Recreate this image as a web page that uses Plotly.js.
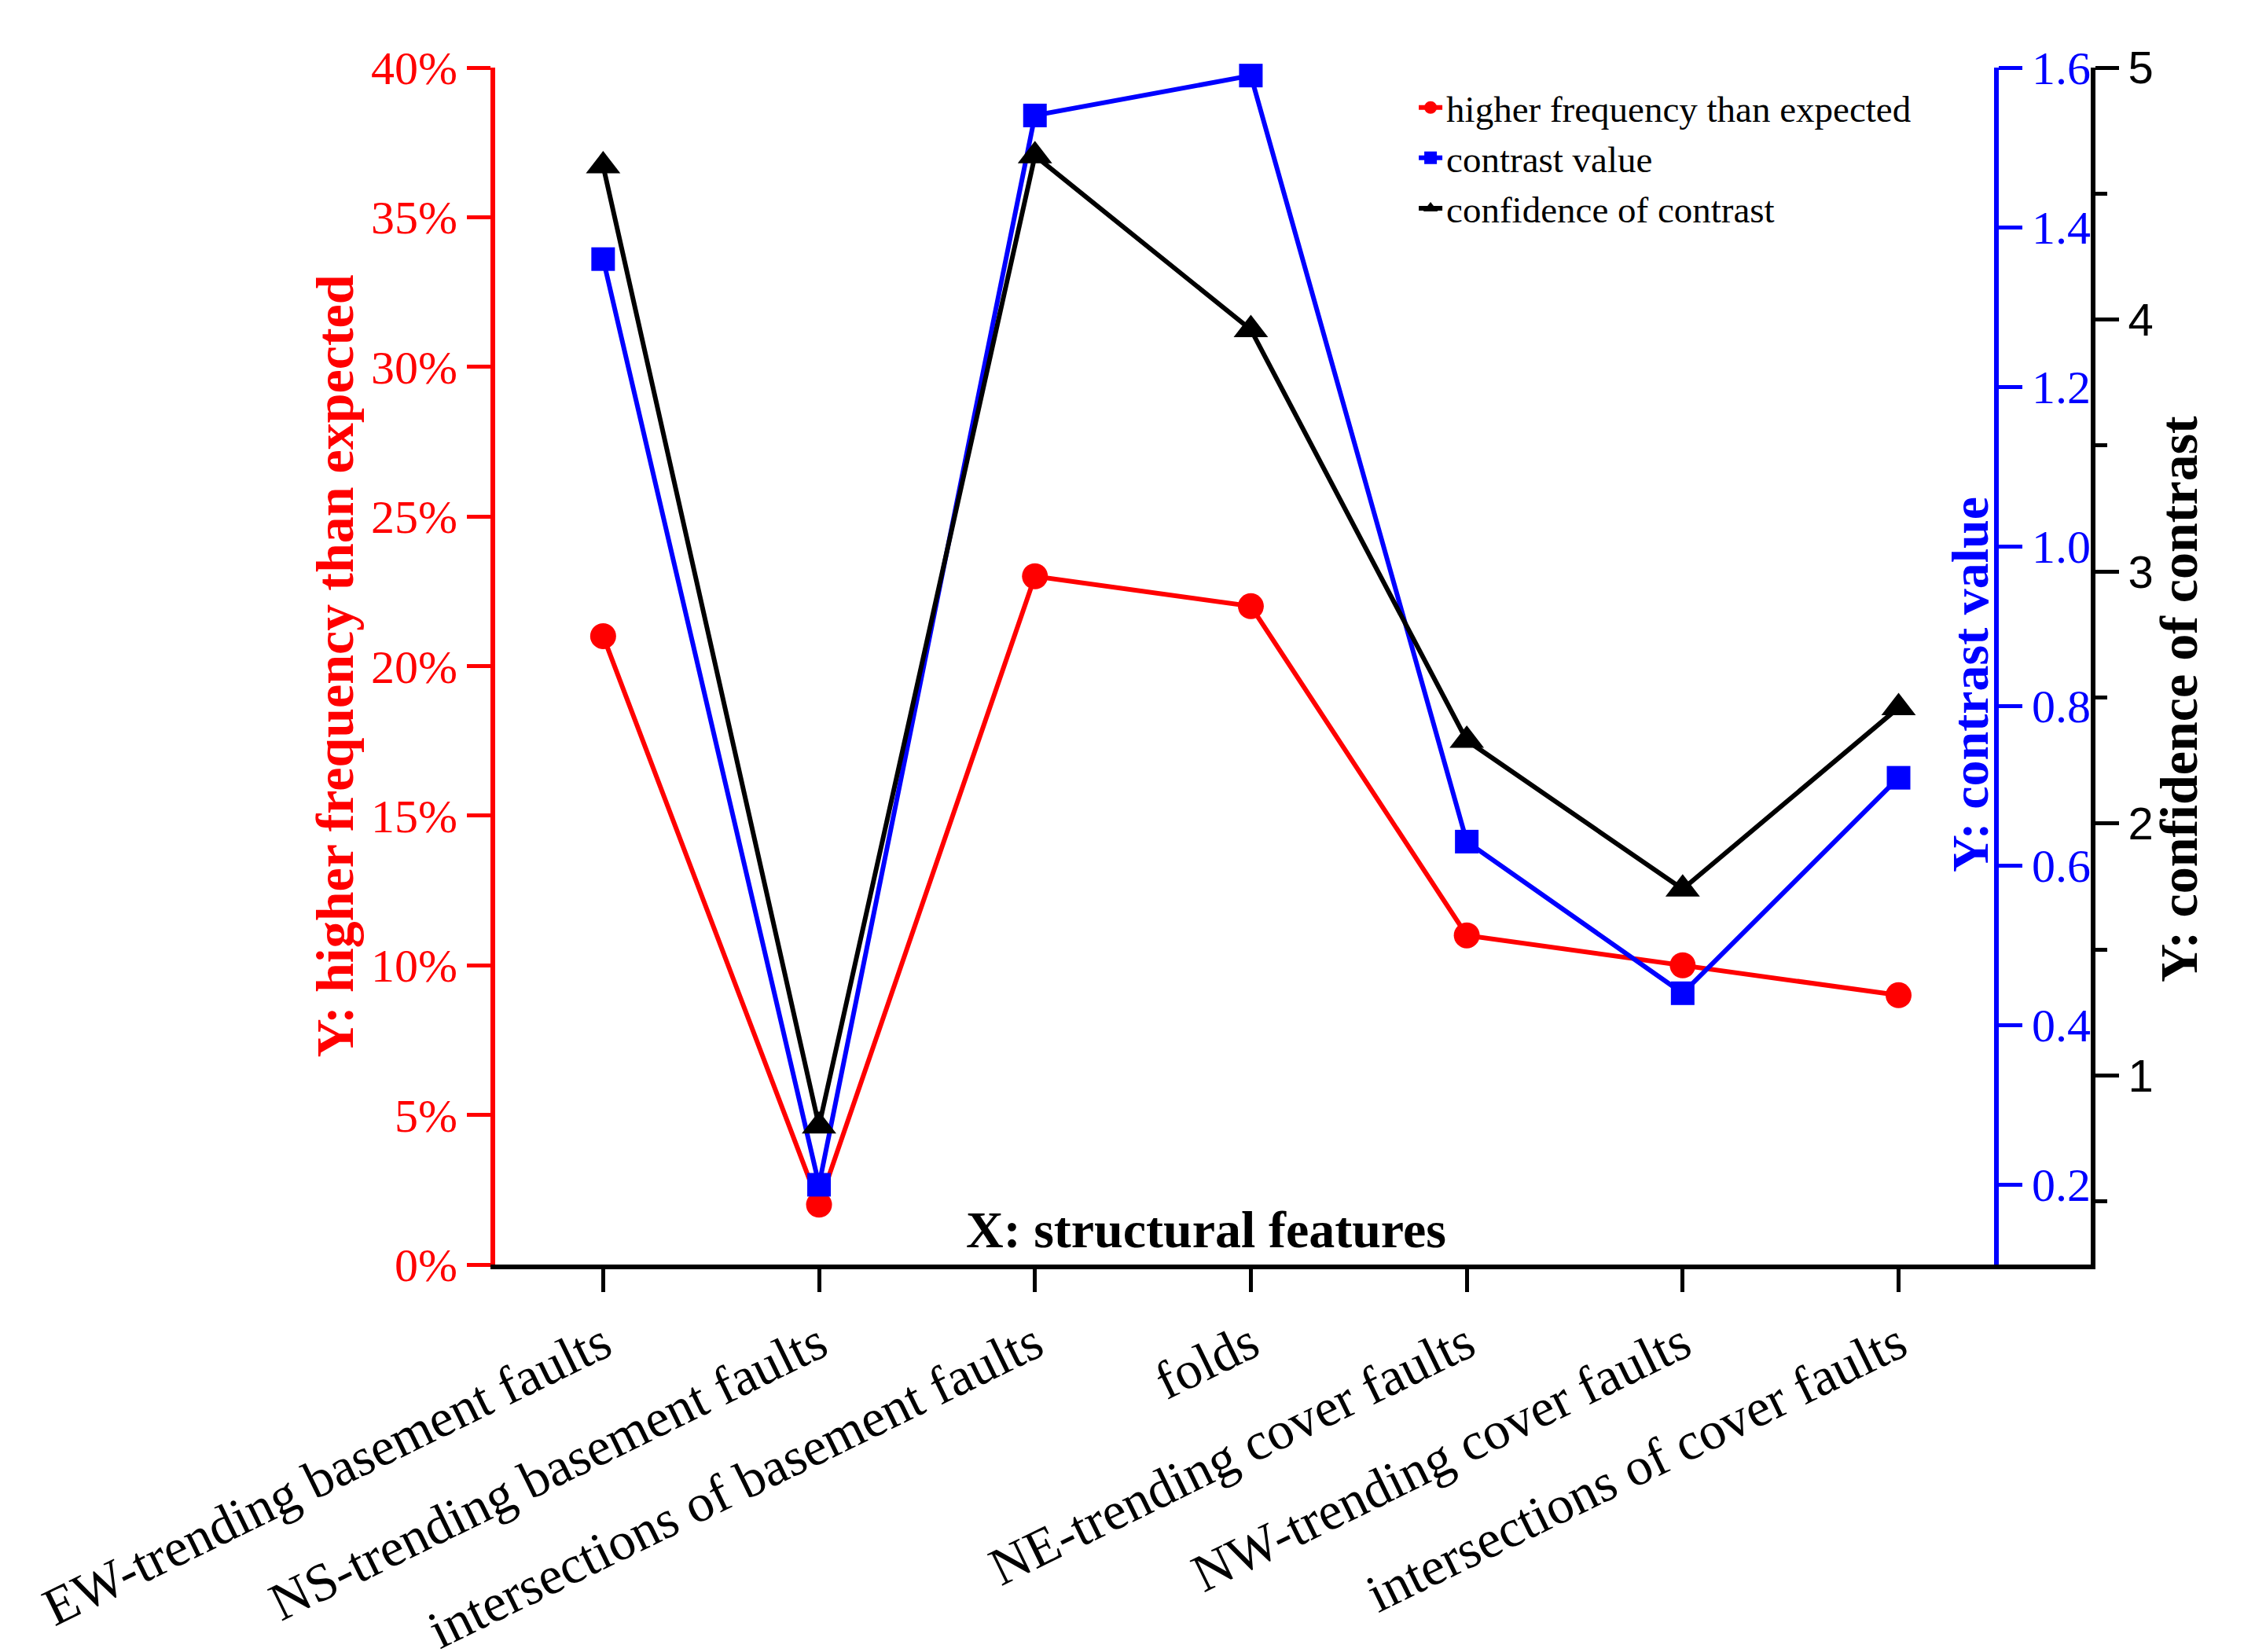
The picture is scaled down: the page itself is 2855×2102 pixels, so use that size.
<!DOCTYPE html>
<html>
<head>
<meta charset="utf-8">
<script src="https://cdn.plot.ly/plotly-3.0.1.min.js"></script>
<style>
  html, body { margin: 0; padding: 0; background: #ffffff; }
  #chart { width: 2855px; height: 2102px; }
</style>
</head>
<body>
<div id="chart"></div>
<script>
// ---- data ----
const categories = [
  'EW-trending basement faults',
  'NS-trending basement faults',
  'intersections of basement faults',
  'folds',
  'NE-trending cover faults',
  'NW-trending cover faults',
  'intersections of cover faults'
];
const freqPct = [21, 2, 23, 22, 11, 10, 9];                       // % (left axis)
const contrastValue = [1.36, 0.20, 1.54, 1.59, 0.63, 0.44, 0.71];  // blue axis
const confidence = [4.61, 0.80, 4.65, 3.96, 2.33, 1.74, 2.46];     // black axis

const redTicks = [0, 5, 10, 15, 20, 25, 30, 35, 40];
const redTickText = ['0%', '5%', '10%', '15%', '20%', '25%', '30%', '35%', '40%'];
const blueTicks = [0.2, 0.4, 0.6, 0.8, 1.0, 1.2, 1.4, 1.6];
const blueTickText = ['0.2', '0.4', '0.6', '0.8', '1.0', '1.2', '1.4', '1.6'];
const blackTicks = [1, 2, 3, 4, 5];
const blackMinorTicks = [0.5, 1.5, 2.5, 3.5, 4.5];

const seriesNames = ['higher frequency than expected', 'contrast value', 'confidence of contrast'];

// ---- styling ----
const RED = '#ff0000', BLUE = '#0000ff', BLACK = '#000000';
const SERIF = 'Liberation Serif, Times New Roman, serif';
const SANS = 'Liberation Sans, Arial, sans-serif';

const traces = [
  {
    x: categories, y: freqPct, name: seriesNames[0], yaxis: 'y',
    type: 'scatter', mode: 'lines+markers', cliponaxis: false,
    line: {color: RED, width: 6},
    marker: {symbol: 'circle', size: 33, color: RED}
  },
  {
    x: categories, y: contrastValue, name: seriesNames[1], yaxis: 'y2',
    type: 'scatter', mode: 'lines+markers', cliponaxis: false,
    line: {color: BLUE, width: 6},
    marker: {symbol: 'square', size: 30, color: BLUE}
  },
  {
    x: categories, y: confidence, name: seriesNames[2], yaxis: 'y3',
    type: 'scatter', mode: 'lines+markers', cliponaxis: false,
    line: {color: BLACK, width: 6},
    marker: {symbol: 'triangle-up', size: 38, color: BLACK}
  }
];

const layout = {
  width: 2855, height: 2102,
  margin: {l: 630, r: 195, t: 86, b: 493, pad: 0},
  paper_bgcolor: '#ffffff', plot_bgcolor: '#ffffff',
  font: {family: SERIF, color: BLACK},
  showlegend: true,
  legend: {
    x: 0.5764, y: 0.991, xanchor: 'left', yanchor: 'top',
    bgcolor: 'rgba(0,0,0,0)', borderwidth: 0,
    font: {family: SERIF, size: 47, color: BLACK},
    tracegroupgap: 0
  },
  xaxis: {
    type: 'category', range: [-0.5, 6.89],
    showline: true, linecolor: BLACK, linewidth: 6,
    ticks: 'outside', ticklen: 29, tickwidth: 5, tickcolor: BLACK,
    tickangle: -26,
    tickfont: {family: SERIF, size: 68, color: BLACK},
    showgrid: false, zeroline: false, fixedrange: true
  },
  yaxis: {
    range: [0, 40], tickmode: 'array', tickvals: redTicks, ticktext: redTickText,
    showline: true, linecolor: RED, linewidth: 6,
    ticks: 'outside', ticklen: 30, tickwidth: 5, tickcolor: RED,
    tickfont: {family: SERIF, size: 60, color: RED},
    showgrid: false, zeroline: false,
    title: {
      text: 'Y: higher frequency than expected',
      font: {family: SERIF, size: 68, color: RED, weight: 'bold'},
      standoff: 2
    }
  },
  yaxis2: {
    overlaying: 'y', side: 'right', anchor: 'free', position: 0.9409,
    range: [0.1, 1.6], tickmode: 'array', tickvals: blueTicks, ticktext: blueTickText,
    showline: true, linecolor: BLUE, linewidth: 6,
    ticks: 'outside', ticklen: 30, tickwidth: 5, tickcolor: BLUE,
    tickfont: {family: SERIF, size: 60, color: BLUE},
    showgrid: false, zeroline: false
  },
  yaxis3: {
    overlaying: 'y', side: 'right', anchor: 'x',
    range: [0.25, 5], tickmode: 'array', tickvals: blackTicks,
    showline: true, linecolor: BLACK, linewidth: 6,
    ticks: 'outside', ticklen: 30, tickwidth: 5, tickcolor: BLACK,
    minor: {tickmode: 'array', tickvals: blackMinorTicks, ticks: 'outside', ticklen: 15, tickwidth: 5, tickcolor: BLACK},
    tickfont: {family: SANS, size: 58, color: BLACK},
    showgrid: false, zeroline: false
  },
  annotations: [
    {
      text: 'Y: contrast value', xref: 'paper', yref: 'paper',
      x: 0.9246, y: 0.4846, xanchor: 'center', yanchor: 'middle',
      textangle: -90, showarrow: false,
      font: {family: SERIF, size: 66, color: BLUE, weight: 'bold'}
    },
    {
      text: 'Y: confidence of contrast', xref: 'paper', yref: 'paper',
      x: 1.0552, y: 0.4721, xanchor: 'center', yanchor: 'middle',
      textangle: -90, showarrow: false,
      font: {family: SERIF, size: 68, color: BLACK, weight: 'bold'}
    },
    {
      text: 'X: structural features', xref: 'paper', yref: 'paper',
      x: 0.4458, y: 0.0289, xanchor: 'center', yanchor: 'middle',
      showarrow: false,
      font: {family: SERIF, size: 66, color: BLACK, weight: 'bold'}
    }
  ]
};

Plotly.newPlot('chart', traces, layout, {displayModeBar: false, staticPlot: true});
</script>
</body>
</html>
